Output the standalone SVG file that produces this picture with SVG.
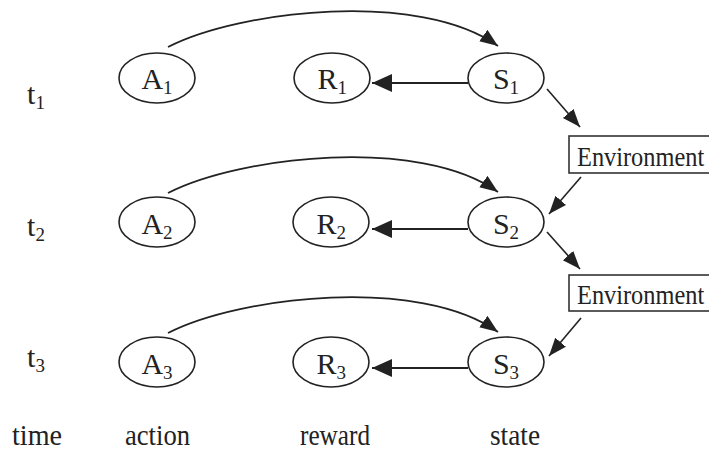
<svg xmlns="http://www.w3.org/2000/svg" width="709" height="453" viewBox="0 0 709 453">
<style>
text{font-family:"Liberation Serif","Times New Roman",serif;fill:#222;}
.lbl{font-size:30px;}
.sub{font-size:19px;}
.envt{font-size:28px;}
.node ellipse{fill:#fff;stroke:#222;stroke-width:1.6;}
.env rect{fill:#fff;stroke:#333;stroke-width:1.6;}
.edge{fill:none;stroke:#222;}
.arc{stroke-width:1.8;marker-end:url(#ah);}
.hz{stroke-width:2.2;marker-end:url(#ahb);}
.dg{stroke-width:1.6;marker-end:url(#ah);}
</style>
<defs>
<marker id="ah" markerUnits="userSpaceOnUse" markerWidth="20" markerHeight="16" refX="18" refY="7" orient="auto">
<path d="M0,0 L18,7 L0,14 z" fill="#222"/>
</marker>
<marker id="ahb" markerUnits="userSpaceOnUse" markerWidth="22" markerHeight="20" refX="20" refY="9" orient="auto">
<path d="M0,0 L20,9 L0,18 z" fill="#222"/>
</marker>
</defs>
<rect width="709" height="453" fill="#fff"/>
<g id="time-labels">
<text class="lbl" x="27" y="104">t</text><text class="sub" x="35.5" y="109">1</text>
<text class="lbl" x="27" y="236">t</text><text class="sub" x="35.5" y="241">2</text>
<text class="lbl" x="27" y="367">t</text><text class="sub" x="35.5" y="372">3</text>
</g>
<g id="connectors">
<path class="edge arc" d="M168,47 C240,10 420,-10 498,46"/>
<path class="edge arc" d="M168,193 C240,156 420,136 498,192"/>
<path class="edge arc" d="M168,333 C240,296 420,276 498,332"/>
<line class="edge hz" x1="468" y1="83" x2="372" y2="83"/>
<line class="edge hz" x1="468" y1="229" x2="372" y2="229"/>
<line class="edge hz" x1="468" y1="368" x2="372" y2="368"/>
<line class="edge dg" x1="547" y1="89" x2="580" y2="127"/>
<line class="edge dg" x1="581" y1="177" x2="549" y2="214"/>
<line class="edge dg" x1="547" y1="232" x2="580" y2="269"/>
<line class="edge dg" x1="581" y1="318" x2="549" y2="356"/>
</g>
<g id="A1" class="node"><ellipse cx="157" cy="78" rx="38" ry="25"/><text class="lbl" x="141.5" y="89">A</text><text class="sub" x="163" y="94">1</text></g>
<g id="R1" class="node"><ellipse cx="332" cy="78" rx="38" ry="25"/><text class="lbl" x="317.5" y="89">R</text><text class="sub" x="337.5" y="94">1</text></g>
<g id="S1" class="node"><ellipse cx="506" cy="78" rx="38" ry="25"/><text class="lbl" x="493" y="89">S</text><text class="sub" x="509.5" y="94">1</text></g>
<g id="A2" class="node"><ellipse cx="157" cy="222" rx="38" ry="25"/><text class="lbl" x="141.5" y="234">A</text><text class="sub" x="163" y="239">2</text></g>
<g id="R2" class="node"><ellipse cx="331" cy="222" rx="38" ry="25"/><text class="lbl" x="316.5" y="234">R</text><text class="sub" x="336.5" y="239">2</text></g>
<g id="S2" class="node"><ellipse cx="506" cy="222" rx="38" ry="25"/><text class="lbl" x="493" y="234">S</text><text class="sub" x="509.5" y="239">2</text></g>
<g id="A3" class="node"><ellipse cx="157" cy="362" rx="38" ry="25"/><text class="lbl" x="141.5" y="374">A</text><text class="sub" x="163" y="379">3</text></g>
<g id="R3" class="node"><ellipse cx="331" cy="362" rx="38" ry="25"/><text class="lbl" x="316.5" y="374">R</text><text class="sub" x="336.5" y="379">3</text></g>
<g id="S3" class="node"><ellipse cx="506" cy="362" rx="38" ry="25"/><text class="lbl" x="493" y="374">S</text><text class="sub" x="509.5" y="379">3</text></g>
<g id="Env1" class="env"><rect x="569" y="136" width="150" height="37"/><text class="envt" transform="translate(577,166) scale(0.87,1)">Environment</text></g>
<g id="Env2" class="env"><rect x="569" y="275" width="150" height="36"/><text class="envt" transform="translate(577,304) scale(0.87,1)">Environment</text></g>
<g id="axis-labels">
<text class="lbl" x="12" y="445" textLength="50" lengthAdjust="spacingAndGlyphs">time</text>
<text class="lbl" x="125" y="445" textLength="65" lengthAdjust="spacingAndGlyphs">action</text>
<text class="lbl" x="300" y="445" textLength="70" lengthAdjust="spacingAndGlyphs">reward</text>
<text class="lbl" x="490" y="445" textLength="50" lengthAdjust="spacingAndGlyphs">state</text>
</g>
</svg>
